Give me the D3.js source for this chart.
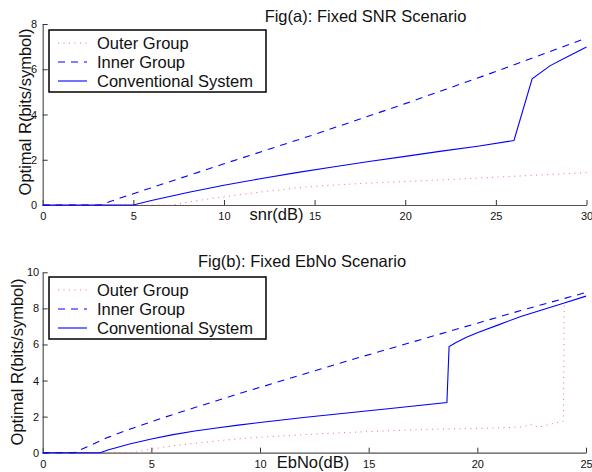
<!DOCTYPE html>
<html>
<head>
<meta charset="utf-8">
<script src="https://cdn.jsdelivr.net/npm/d3@7"></script>
<style>
  body { margin: 0; background: #fff; }
  svg { display: block; font-family: "Liberation Sans", Arial, Helvetica, sans-serif; }
  .tick text { font-size: 11px; fill: #111; }
</style>
</head>
<body>
<script>
// Fig (a): fixed SNR, x = snr(dB)
const aOuterX = [0, 7.2, 8, 9, 10, 11, 12, 13, 14, 16, 18, 20, 22, 24, 26, 28, 30];
const aOuterY = [0, 0, 0.13, 0.25, 0.36, 0.47, 0.57, 0.66, 0.76, 0.88, 0.97, 1.04, 1.11, 1.19, 1.27, 1.35, 1.43];
const aInnerX = [0, 3.16, 5, 10, 15, 20, 25, 30];
const aInnerY = [0, 0, 0.5, 1.82, 3.12, 4.48, 5.9, 7.38];
const aConvX = [0, 5, 6, 8, 10, 12, 14, 16, 18, 20, 22, 24, 26, 27, 28, 29, 30];
const aConvY = [0, 0, 0.2, 0.55, 0.87, 1.16, 1.43, 1.68, 1.92, 2.15, 2.38, 2.6, 2.85, 5.58, 6.16, 6.57, 6.98];
const aXTicks = [0, 5, 10, 15, 20, 25, 30];
const aYTicks = [0, 2, 4, 6, 8];

// Fig (b): fixed EbNo, x = EbNo(dB)
const bOuterX = [0, 4.15, 5, 6, 7, 8, 9, 10, 12, 14, 16, 18, 20, 21, 22, 22.5, 22.8, 23.5, 23.96, 24, 25];
const bOuterY = [0, 0, 0.2, 0.38, 0.52, 0.65, 0.77, 0.86, 1.0, 1.12, 1.22, 1.3, 1.34, 1.38, 1.42, 1.56, 1.42, 1.62, 1.75, 8.3, 8.65];
const bInnerX = [0, 1.45, 2, 3, 4, 5, 6, 7, 8, 9, 10, 12, 14, 16, 18, 20, 22, 24, 25];
const bInnerY = [0, 0, 0.3, 0.85, 1.3, 1.72, 2.12, 2.5, 2.88, 3.26, 3.62, 4.35, 5.08, 5.78, 6.48, 7.18, 7.88, 8.55, 8.88];
const bConvX = [0, 2.64, 3, 4, 5, 6, 7, 8, 9, 10, 12, 14, 16, 18.6, 18.7, 19, 19.5, 20, 21, 22, 23, 24, 25];
const bConvY = [0, 0, 0.15, 0.48, 0.76, 1.0, 1.2, 1.37, 1.53, 1.67, 1.95, 2.2, 2.45, 2.78, 5.88, 6.1, 6.4, 6.65, 7.1, 7.55, 7.92, 8.3, 8.68];
const bXTicks = [0, 5, 10, 15, 20, 25];
const bYTicks = [0, 2, 4, 6, 8, 10];

const legendLabels = ["Outer Group", "Inner Group", "Conventional System"];

const width = 592;
const height = 472;

const svg = d3.select("body").append("svg")
  .attr("width", width)
  .attr("height", height);

// line styles, same order as legendLabels
const styles = [
  { stroke: "#ff3a3a", dash: "1,4.5", width: 1, opacity: 0.75 },
  { stroke: "#0000ff", dash: "7,6", width: 1.1, opacity: 1 },
  { stroke: "#0000ff", dash: null, width: 1.1, opacity: 1 }
];

const drawPanel = (p) => {
  const x = d3.scaleLinear().domain(p.xDomain).range(p.xRange);
  const y = d3.scaleLinear().domain(p.yDomain).range(p.yRange);
  const g = svg.append("g");

  // axes: only left + bottom, ticks pointing inward
  const xAxis = g.append("g")
    .attr("transform", `translate(0,${p.yRange[0]})`)
    .call(d3.axisBottom(x).tickValues(p.xTicks).tickSizeInner(-5).tickSizeOuter(0).tickPadding(7.5));
  const yAxis = g.append("g")
    .attr("transform", `translate(${p.xRange[0]},0)`)
    .call(d3.axisLeft(y).tickValues(p.yTicks).tickSizeInner(-5).tickSizeOuter(0).tickPadding(p.yPad));
  [xAxis, yAxis].forEach((a) => {
    a.select(".domain").attr("stroke", "#555").attr("stroke-width", 1.2);
    a.selectAll(".tick line").attr("stroke", "#333");
    a.attr("font-family", null).attr("font-size", null);
  });

  // series
  const series = [p.outer, p.inner, p.conv];
  const line = d3.line().x((d) => x(d[0])).y((d) => y(d[1]));
  series.forEach((s, i) => {
    const pts = s[0].map((v, k) => [v, s[1][k]]);
    g.append("path")
      .datum(pts)
      .attr("d", line)
      .attr("fill", "none")
      .attr("stroke", styles[i].stroke)
      .attr("stroke-opacity", styles[i].opacity)
      .attr("stroke-width", styles[i].width)
      .attr("stroke-dasharray", styles[i].dash);
  });

  // texts
  g.append("text")
    .attr("x", p.titlePos[0]).attr("y", p.titlePos[1])
    .attr("text-anchor", "middle").attr("font-size", 16.5).attr("fill", "#111")
    .text(p.title);
  g.append("text")
    .attr("x", p.xLabelPos[0]).attr("y", p.xLabelPos[1])
    .attr("text-anchor", "middle").attr("font-size", 16.5).attr("fill", "#111")
    .text(p.xLabel);
  g.append("text")
    .attr("transform", `translate(${p.yLabelPos[0]},${p.yLabelPos[1]}) rotate(-90)`)
    .attr("text-anchor", "middle").attr("font-size", 16.5).attr("fill", "#111")
    .text("Optimal R(bits/symbol)");

  // legend
  const lg = g.append("g").attr("transform", `translate(${p.legend[0]},${p.legend[1]})`);
  lg.append("rect")
    .attr("width", 217).attr("height", 62)
    .attr("fill", "#fff").attr("stroke", "#000").attr("stroke-width", 1.5);
  legendLabels.forEach((lab, i) => {
    const ry = 13 + i * 19;
    lg.append("line")
      .attr("x1", 9).attr("x2", 38).attr("y1", ry).attr("y2", ry)
      .attr("stroke", styles[i].stroke)
      .attr("stroke-opacity", styles[i].opacity)
      .attr("stroke-width", styles[i].width)
      .attr("stroke-dasharray", styles[i].dash);
    lg.append("text")
      .attr("x", 48).attr("y", ry + 6)
      .attr("font-size", 16.5).attr("fill", "#111")
      .text(lab);
  });
};

drawPanel({
  xDomain: [0, 30], yDomain: [0, 8],
  xRange: [42.7, 586.5], yRange: [205, 24],
  xTicks: aXTicks, yTicks: aYTicks, yPad: 5.5,
  outer: [aOuterX, aOuterY], inner: [aInnerX, aInnerY], conv: [aConvX, aConvY],
  title: "Fig(a): Fixed SNR Scenario", titlePos: [365.5, 22],
  xLabel: "snr(dB)", xLabelPos: [276.5, 220],
  yLabelPos: [31, 112],
  legend: [49, 30]
});

drawPanel({
  xDomain: [0, 25], yDomain: [0, 10],
  xRange: [42.7, 586], yRange: [452.7, 272.3],
  xTicks: bXTicks, yTicks: bYTicks, yPad: 3.5,
  outer: [bOuterX, bOuterY], inner: [bInnerX, bInnerY], conv: [bConvX, bConvY],
  title: "Fig(b): Fixed EbNo Scenario", titlePos: [302, 267],
  xLabel: "EbNo(dB)", xLabelPos: [313, 468],
  yLabelPos: [22.5, 362],
  legend: [49, 277]
});
</script>
</body>
</html>
